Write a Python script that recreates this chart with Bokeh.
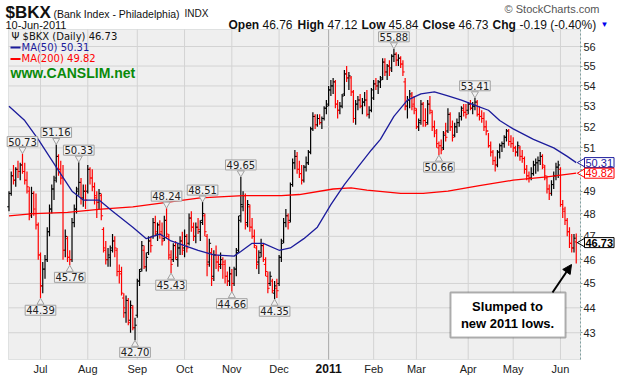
import numpy as np
from bokeh.plotting import figure
from bokeh.models import (Range1d, FixedTicker, Label, ColumnDataSource, Arrow,
                          NormalHead, BoxAnnotation, PrintfTickFormatter)
from bokeh.embed import file_html
from bokeh.resources import INLINE

# ---------------- data: daily (open, high, low, close) ----------------
jun_2010 = [(48.3,49.0,48.1,48.9),(48.9,49.9,48.8,49.7),(49.7,50.2,49.3,49.5),(49.5,50.1,49.2,50.0),
            (50.0,50.4,49.6,49.9),(49.9,50.3,49.5,50.2),(50.2,50.73,49.8,49.9),(49.9,50.3,49.3,49.5),
            (49.5,49.9,48.9,49.2),(49.0,49.2,47.7,47.9),(48.0,49.2,47.8,48.9),(48.9,49.0,47.9,48.2),
            (48.0,48.9,47.3,47.5),(47.5,47.6,46.0,46.2)]
jul_2010 = [(46.2,46.3,44.39,44.9),(44.9,45.9,44.6,45.6),(45.6,46.2,45.2,46.0),(46.0,47.4,45.9,47.2),
            (47.2,48.4,47.0,48.2),(48.2,49.3,48.0,49.1),(49.1,49.7,48.6,49.5),(49.6,51.16,49.4,50.6),
            (50.6,50.7,49.7,50.0),(50.0,50.4,49.3,49.6),(49.6,50.2,46.0,46.4),(46.4,47.3,46.1,47.0),
            (46.9,47.0,45.9,46.1),(46.1,46.4,45.76,46.0),(46.0,47.8,45.9,47.6),(47.6,48.4,47.4,48.2),
            (48.2,49.2,48.0,49.0),(49.1,50.33,48.8,49.4),(49.4,49.6,48.4,48.7),(48.7,49.3,48.3,49.0),
            (49.0,49.3,48.2,48.6)]
aug_2010 = [(49.0,50.2,48.9,50.0),(50.0,50.1,49.3,49.6),(49.6,50.0,49.0,49.2),(49.2,49.4,48.4,48.8),
            (48.7,49.0,47.8,48.5),(48.5,49.1,48.2,48.9),(48.8,48.9,47.7,47.9),(47.3,47.4,46.3,46.5),
            (46.4,46.8,45.8,46.0),(46.0,46.5,45.7,46.2),(46.1,46.6,45.7,46.4),(46.5,47.1,46.3,46.8),
            (46.8,47.0,46.1,46.5),(46.4,46.5,45.3,45.5),(45.5,45.8,45.0,45.4),(45.5,45.7,44.5,44.6),
            (44.4,44.6,43.6,44.0),(43.8,44.5,43.4,44.3),(44.3,44.4,43.3,43.4),(43.5,44.3,43.0,44.1),
            (44.0,44.1,43.1,43.2),(43.2,43.6,42.70,43.3)]
sep_2010 = [(43.7,45.2,43.6,45.1),(45.1,45.6,44.9,45.5),(45.6,46.8,45.5,46.6),(46.4,46.6,45.6,45.7),
            (45.7,46.3,45.5,46.1),(46.3,47.0,46.2,46.8),(46.8,47.0,46.3,46.6),(47.0,47.8,46.9,47.6),
            (47.6,47.9,47.0,47.2),(47.1,47.6,46.8,47.5),(47.5,47.7,46.9,47.1),(47.2,47.6,46.6,46.8),
            (46.9,47.9,46.8,47.7),(47.7,48.24,46.9,47.1),(47.0,47.1,46.0,46.2),(46.1,46.4,45.43,45.8),
            (46.0,46.7,45.9,46.6),(46.6,46.8,46.0,46.1),(46.0,46.7,45.7,46.5),(46.5,47.0,46.2,46.8),
            (46.8,47.2,46.2,46.4)]
oct_2010 = [(46.5,47.3,46.1,47.0),(47.0,47.1,46.3,46.5),(46.7,48.0,46.6,47.8),(47.8,48.1,47.2,47.4),
            (47.4,47.6,46.8,47.0),(47.0,47.6,46.7,47.4),(47.4,47.8,47.1,47.3),(47.2,47.7,46.8,47.6),
            (47.7,48.51,47.5,48.0),(47.9,48.0,47.0,47.2),(47.0,47.1,45.3,45.8),(45.9,46.9,45.7,46.7),
            (46.3,46.5,44.9,45.2),(45.3,46.4,45.1,46.2),(46.2,46.6,45.6,45.9),(45.9,46.2,45.5,45.7),
            (45.8,46.3,45.6,46.0),(45.8,46.1,45.2,45.9),(45.8,46.0,45.0,45.3),(45.3,45.5,44.9,45.1),
            (45.1,45.7,44.9,45.4)]
nov_2010 = [(45.4,45.6,44.66,45.0),(45.0,45.7,44.9,45.6),(45.6,46.5,45.3,46.3),(46.4,47.9,46.3,47.7),
            (47.9,49.65,47.6,48.4),(48.3,49.0,48.1,48.8),(48.8,48.9,47.3,47.5),(47.6,48.6,47.4,48.4),
            (48.3,48.4,47.2,47.4),(47.4,47.8,46.9,47.0),(47.0,47.3,46.5,46.6),(46.5,46.6,45.6,45.8),
            (45.9,46.4,45.4,46.1),(46.3,46.9,46.1,46.6),(46.6,46.7,45.9,46.0),(45.8,46.1,45.3,45.5),
            (45.3,45.5,44.6,44.8),(45.0,45.5,44.9,45.3),(45.1,45.2,44.6,44.7),(44.6,45.1,44.35,44.9),
            (44.8,45.2,44.4,44.7)]
dec_2010 = [(45.0,46.2,44.9,46.1),(46.1,46.9,45.9,46.7),(46.8,47.8,46.7,47.6),(47.6,48.2,47.4,47.9),
            (47.9,48.0,47.3,47.6),(47.7,49.4,47.6,49.3),(49.3,50.5,49.2,50.3),(50.3,50.9,50.0,50.6),
            (50.6,50.8,49.8,50.0),(50.0,50.4,49.6,49.8),(49.8,50.2,49.3,49.5),(49.5,50.2,49.4,50.1),
            (50.1,50.6,49.9,50.3),(50.3,50.9,50.2,50.8),(50.8,52.0,50.7,51.9),(51.9,52.7,51.8,52.5),
            (52.5,52.6,51.9,52.1),(52.1,52.6,52.0,52.4),(52.4,52.6,52.1,52.2),(52.2,52.5,51.9,52.4),
            (52.4,53.0,52.3,52.9),(52.9,53.3,52.6,53.0)]
jan_2011 = [(53.1,54.0,53.0,53.8),(53.8,54.3,53.5,54.0),(54.0,54.4,53.6,54.2),(54.2,54.3,52.9,53.1),
            (53.1,53.3,52.4,52.8),(52.8,53.2,52.6,53.0),(53.0,53.6,52.9,53.5),(53.6,54.8,53.5,54.6),
            (54.6,55.0,54.2,54.4),(54.4,54.7,53.8,54.5),(54.4,54.5,53.5,53.7),(53.7,53.8,52.2,52.4),
            (52.4,53.3,52.1,53.1),(53.1,53.5,52.8,53.3),(53.3,53.6,52.9,53.0),(53.0,53.4,52.6,53.2),
            (53.2,53.7,53.0,53.3),(53.3,53.8,52.5,52.6),(52.6,53.0,52.4,52.8),(52.8,53.9,52.7,53.8)]
feb_2011 = [(53.4,54.3,53.3,54.1),(54.1,54.4,53.8,54.0),(54.0,54.3,53.6,54.2),(54.2,54.5,53.9,54.3),
            (54.4,55.4,54.3,55.2),(55.2,55.4,54.5,54.7),(54.7,55.1,54.3,55.0),(55.0,55.3,54.5,54.8),
            (54.9,55.6,54.7,55.5),(55.5,55.88,55.2,55.6),(55.6,55.7,55.0,55.3),(55.3,55.6,55.0,55.4),
            (55.4,55.5,54.9,55.1),(55.1,55.3,54.5,54.7),(54.2,54.4,52.8,53.0),(53.0,53.5,52.4,53.3),
            (53.3,53.8,52.9,53.6),(53.5,53.7,52.8,53.0),(53.1,53.5,52.6,52.9)]
mar_2011 = [(52.8,52.9,51.9,52.0),(52.0,52.4,51.8,52.2),(52.3,53.3,52.1,53.1),(53.1,53.2,52.0,52.3),
            (52.3,52.9,52.0,52.1),(52.2,53.3,52.1,53.1),(53.1,53.5,52.6,52.8),(52.7,52.8,51.8,52.0),
            (52.0,52.3,51.5,51.8),(51.7,51.9,51.0,51.2),(51.0,51.3,50.66,51.1),(51.1,51.4,50.7,50.9),
            (51.0,51.8,50.9,51.6),(51.7,52.2,51.3,51.5),(51.8,52.9,51.7,52.6),(52.6,52.7,51.8,52.0),
            (52.0,52.3,51.3,51.5),(51.6,52.2,51.5,52.0),(52.0,52.4,51.7,52.2),(52.2,52.7,52.0,52.5),
            (52.5,53.0,52.3,52.9),(52.8,53.1,52.5,52.7),(52.7,53.1,52.4,52.6)]
apr_2011 = [(52.8,53.2,52.6,53.1),(53.1,53.3,52.8,52.9),(52.9,53.2,52.6,53.0),(53.0,53.41,52.8,53.2),
            (53.2,53.3,52.5,52.6),(52.6,53.0,52.3,52.5),(52.5,52.8,52.2,52.4),(52.4,52.7,51.8,52.0),
            (52.0,52.3,51.6,51.8),(51.8,51.7,51.0,51.1),(51.1,51.3,50.6,50.8),(50.8,50.9,50.2,50.4),
            (50.4,50.6,49.9,50.2),(50.2,50.9,50.1,50.8),(50.8,51.2,50.5,51.1),(51.1,51.3,50.8,51.2),
            (51.2,51.6,51.0,51.5),(51.5,51.9,51.3,51.8),(51.8,51.9,51.1,51.3),(51.3,51.6,51.0,51.2)]
may_2011 = [(51.2,51.5,50.8,51.0),(51.0,51.1,50.6,50.8),(50.8,51.3,50.6,51.1),(51.0,51.1,50.4,50.6),
            (50.6,50.9,50.3,50.5),(50.5,50.6,49.8,50.0),(50.0,50.2,49.5,49.7),(49.7,49.9,49.4,49.6),
            (49.6,50.1,49.5,49.8),(49.8,50.4,49.7,50.2),(50.2,50.5,49.8,50.3),(50.3,50.6,49.9,50.4),
            (50.4,50.8,50.2,50.6),(50.6,50.7,50.0,50.2),(50.1,50.2,49.5,49.7),(49.6,49.7,48.9,49.1),
            (49.1,49.3,48.6,48.9),(48.9,49.5,48.8,49.3),(49.3,49.9,49.1,49.7),(49.7,50.3,49.5,50.1),
            (50.1,50.4,49.6,50.2)]
jun_2011 = [(50.0,50.1,48.3,48.4),(48.4,48.6,47.8,48.2),(48.1,48.3,47.5,47.7),(47.7,47.8,47.0,47.2),
            (47.2,47.4,46.5,46.7),(46.7,47.1,46.3,46.5),(46.5,47.1,46.3,46.92),(46.76,47.12,45.84,46.73)]

first_index = -14   # trading-day index of the first bar (index 0 = 1 Jul 2010)

month_starts = [0, 21, 43, 64, 85, 106, 128, 148, 167, 190, 210, 231]
month_labels = ["Jul", "Aug", "Sep", "Oct", "Nov", "Dec", "2011", "Feb", "Mar", "Apr", "May", "Jun"]

ma50_idx = [-14, -7, -1, 7, 14, 19, 26, 32, 41, 47, 50, 53, 58, 64, 70, 77, 86, 89, 94, 99, 106,
            111, 117, 123, 129, 135, 141, 147, 151, 157, 163, 169, 175, 181, 187, 194, 199, 204,
            210, 219, 228, 234, 238]
ma50_val = [53.0, 52.3, 51.4, 50.1, 49.0, 48.6, 48.6, 48.1, 47.4, 46.9, 47.0, 47.1, 46.8, 46.6,
            46.4, 46.2, 46.15, 46.35, 46.7, 46.7, 46.4, 46.5, 46.9, 47.4, 48.4, 49.3, 50.1, 50.9,
            51.4, 52.5, 53.3, 53.6, 53.7, 53.5, 53.3, 53.0, 52.8, 52.3, 51.9, 51.4, 51.0, 50.6, 50.31]
ma200_idx = [-14, -3, 12, 27, 41, 56, 71, 90, 107, 115, 130, 138, 145, 160, 170, 181, 195, 210,
             225, 238]
ma200_val = [47.9, 48.0, 48.05, 48.2, 48.3, 48.5, 48.7, 48.8, 48.8, 48.85, 49.1, 49.15, 49.05,
             48.9, 48.9, 49.0, 49.25, 49.5, 49.65, 49.82]

peak_idx = [-8, 7, 17, 56, 72, 89, 157, 193]
peak_val = [50.73, 51.16, 50.33, 48.24, 48.51, 49.65, 55.88, 53.41]
trough_idx = [0, 13, 42, 58, 85, 104, 177]
trough_val = [44.39, 45.76, 42.70, 45.43, 44.66, 44.35, 50.66]

price_ticks = list(range(43, 57))

# ---------------- build ----------------
bars = (jun_2010 + jul_2010 + aug_2010 + sep_2010 + oct_2010 + nov_2010 + dec_2010 +
        jan_2011 + feb_2011 + mar_2011 + apr_2011 + may_2011 + jun_2011)
n = len(bars)
xs = [first_index + k for k in range(n)]
opens = [b[0] for b in bars]
highs = [b[1] for b in bars]
lows = [b[2] for b in bars]
closes = [b[3] for b in bars]
colors = []
for k in range(n):
    if k == 0 or closes[k] >= closes[k - 1]:
        colors.append("#000000")
    else:
        colors.append("#ff0000")

W, H = 617, 380
K = 1083.6  # px per ln unit
PL, PR, PT, PB = 8, 580, 29, 359   # plot area in page pixels


def px2i(x):
    return (x - 40.0) / 2.251


def py2p(y):
    return 56.0 * float(np.exp(-(y - 46.0) / K))


p = figure(width=W, height=H, output_backend="svg", toolbar_location=None,
           x_range=Range1d(px2i(0), px2i(W)), y_range=Range1d(py2p(H), py2p(0)),
           y_axis_type="log", x_axis_location="below", y_axis_location="right",
           min_border=0)
p.title.visible = False
p.background_fill_color = "white"
p.border_fill_color = "white"
p.outline_line_color = None
p.grid.visible = False

# plot area
p.add_layout(BoxAnnotation(left=px2i(PL), right=px2i(PR), top=py2p(PT), bottom=py2p(PB),
                           fill_color="#efefef", fill_alpha=1, line_color="#a9b0b0",
                           line_width=1, level="underlay"))

# grid lines (at the axis ticks, restricted to the plot area)
gx = [m for m in month_starts if m != 128]
p.segment(x0=gx, x1=gx, y0=[py2p(PB)] * len(gx), y1=[py2p(PT)] * len(gx),
          line_color="#d3d3d3", line_width=1)
p.segment(x0=[128], x1=[128], y0=[py2p(PB)], y1=[py2p(PT)], line_color="#a8a8a8", line_width=1)
p.segment(x0=[px2i(PL)] * len(price_ticks), x1=[px2i(PR)] * len(price_ticks),
          y0=price_ticks, y1=price_ticks, line_color="#d3d3d3", line_width=1)

# right price axis
ax = p.yaxis[0]
ax.fixed_location = px2i(PR)
ax.bounds = (py2p(PB), py2p(PT))
ax.ticker = FixedTicker(ticks=price_ticks)
ax.formatter = PrintfTickFormatter(format="%d")
ax.major_label_text_font = "Liberation Sans"
ax.major_label_text_font_size = "11px"
ax.major_label_text_color = "#222222"
ax.axis_line_color = "#7f9f9f"
ax.axis_line_dash = "2 2"
ax.major_tick_line_color = "#7f9f9f"
ax.major_tick_out = 2
ax.major_tick_in = 0
ax.minor_tick_line_color = None
ax.major_label_standoff = 1

# bottom month axis
bx = p.xaxis[0]
bx.fixed_location = py2p(PB)
bx.bounds = (px2i(PL), px2i(PR))
bx.ticker = FixedTicker(ticks=month_starts)
bx.major_label_overrides = {m: ("" if lab == "2011" else lab) for m, lab in zip(month_starts, month_labels)}
bx.major_label_text_font = "Liberation Sans"
bx.major_label_text_font_size = "11px"
bx.major_label_text_color = "#222222"
bx.axis_line_color = None
bx.major_tick_line_color = None
bx.minor_tick_line_color = None
bx.major_tick_out = 0
bx.major_label_standoff = 3
p.add_layout(Label(x=128, y=py2p(368), text="2011", text_align="center", text_baseline="middle",
                   text_font="Liberation Sans", text_font_size="12px", text_font_style="bold",
                   text_color="#111111"))

# price bars
src = ColumnDataSource(dict(x=xs, xo=[x - 0.8 for x in xs], xc=[x + 0.8 for x in xs],
                            o=opens, h=highs, l=lows, c=closes, col=colors))
p.segment(x0="x", y0="l", x1="x", y1="h", line_color="col", line_width=1.2, source=src)
p.segment(x0="xo", y0="o", x1="x", y1="o", line_color="col", line_width=1, source=src)
p.segment(x0="x", y0="c", x1="xc", y1="c", line_color="col", line_width=1, source=src)

p.line(ma200_idx, ma200_val, line_color="#ff0000", line_width=1.3)
p.line(ma50_idx, ma50_val, line_color="#1c1c9c", line_width=1.3)

# swing labels
LF = "DejaVu Sans"
p.scatter([i for i in peak_idx], [v * float(np.exp(4 / K)) for v in peak_val], marker="inverted_triangle",
          size=7, fill_color="#f2f2f2", line_color="#a0a0a0")
p.scatter([i for i in trough_idx], [v * float(np.exp(-4 / K)) for v in trough_val], marker="triangle",
          size=7, fill_color="#f2f2f2", line_color="#a0a0a0")
for i, v in zip(peak_idx, peak_val):
    p.add_layout(Label(x=i, y=v, text=f"{v:.2f}", text_align="center", text_baseline="bottom",
                       y_offset=7, text_font=LF, text_font_size="10px", text_color="#222222",
                       background_fill_color="#f2f2f2", border_line_color="#a0a0a0", padding=1))
for i, v in zip(trough_idx, trough_val):
    p.add_layout(Label(x=i, y=v, text=f"{v:.2f}", text_align="center", text_baseline="top",
                       y_offset=-7, text_font=LF, text_font_size="10px", text_color="#222222",
                       background_fill_color="#f2f2f2", border_line_color="#a0a0a0", padding=1))

# right side value boxes
last_close = closes[-1]
boxes = [(ma50_val[-1], "#1c1c9c", "normal"), (ma200_val[-1], "#ff0000", "normal"),
         (last_close, "#000000", "bold")]
p.scatter([px2i(582)] * 3, [b[0] for b in boxes], marker="triangle", angle=np.pi / 2, size=9,
          fill_color="white", line_color=[b[1] for b in boxes])
for v, col, style in boxes:
    p.add_layout(Label(x=px2i(584), y=v, text=f"{v:.2f}", text_align="left", text_baseline="middle",
                       text_font="Liberation Sans", text_font_size="11px", text_font_style=style,
                       text_color=col, background_fill_color="white", border_line_color=col,
                       padding=1))


def tlabel(x, y, text, size="11px", style="normal", color="#111111", font="Liberation Sans",
           align="left"):
    p.add_layout(Label(x=px2i(x), y=py2p(y), text=text, text_align=align, text_baseline="middle",
                       text_font=font, text_font_size=size, text_font_style=style,
                       text_color=color))


# header
tlabel(5, 12, "$BKX", size="17px", style="bold")
tlabel(53, 13, "(Bank Index - Philadelphia)", size="10.5px")
tlabel(184, 13, "INDX", size="10px")
tlabel(5, 24, "10-Jun-2011", size="11px")
tlabel(599, 8, "\u00a9 StockCharts.com", size="11px", color="#555555", align="right")
chg = closes[-1] - closes[-2]
hdr = [(228, "Open", "bold"), (262, f"{opens[-1]:.2f}", "normal"), (297, "High", "bold"),
       (327, f"{highs[-1]:.2f}", "normal"), (361, "Low", "bold"), (388, f"{lows[-1]:.2f}", "normal"),
       (422, "Close", "bold"), (458, f"{closes[-1]:.2f}", "normal"), (492, "Chg", "bold"),
       (519, f"{chg:.2f} ({chg / closes[-2] * 100:.2f}%)", "normal")]
for x, t, s in hdr:
    tlabel(x, 24, t, size="12px", style=s)
tlabel(604, 24, "\u25bc", size="8px", color="#0000ee", align="center")

# legend inside plot
tlabel(11, 36, "\u03a8 $BKX (Daily) " + f"{closes[-1]:.2f}", size="10px", font=LF, color="#111111")
p.add_layout(BoxAnnotation(left=px2i(10), right=px2i(20), top=py2p(46), bottom=py2p(48),
                           fill_color="#1c1c9c", fill_alpha=1, line_color=None))
tlabel(21, 47, f"MA(50) {ma50_val[-1]:.2f}", size="10px", font=LF, color="#1c1c9c")
p.add_layout(BoxAnnotation(left=px2i(10), right=px2i(20), top=py2p(57.5), bottom=py2p(59.5),
                           fill_color="#ff0000", fill_alpha=1, line_color=None))
tlabel(21, 58, f"MA(200) {ma200_val[-1]:.2f}", size="10px", font=LF, color="#ff0000")
tlabel(10, 72, "www.CANSLIM.net", size="14px", style="bold", color="#0a8a0a")

# annotation
p.add_layout(BoxAnnotation(left=px2i(450), right=px2i(565), top=py2p(292), bottom=py2p(337),
                           fill_color="white", fill_alpha=1, line_color="black", line_width=2))
tlabel(507, 306, "Slumped to", size="13px", style="bold", color="black", align="center")
tlabel(507, 323, "new 2011 lows.", size="13px", style="bold", color="black", align="center")
p.add_layout(Arrow(end=NormalHead(size=9, fill_color="black", line_color="black"),
                   x_start=px2i(552), y_start=py2p(292), x_end=px2i(571), y_end=py2p(264),
                   line_color="black", line_width=2))

open("out.html", "w").write(file_html(p, INLINE))
